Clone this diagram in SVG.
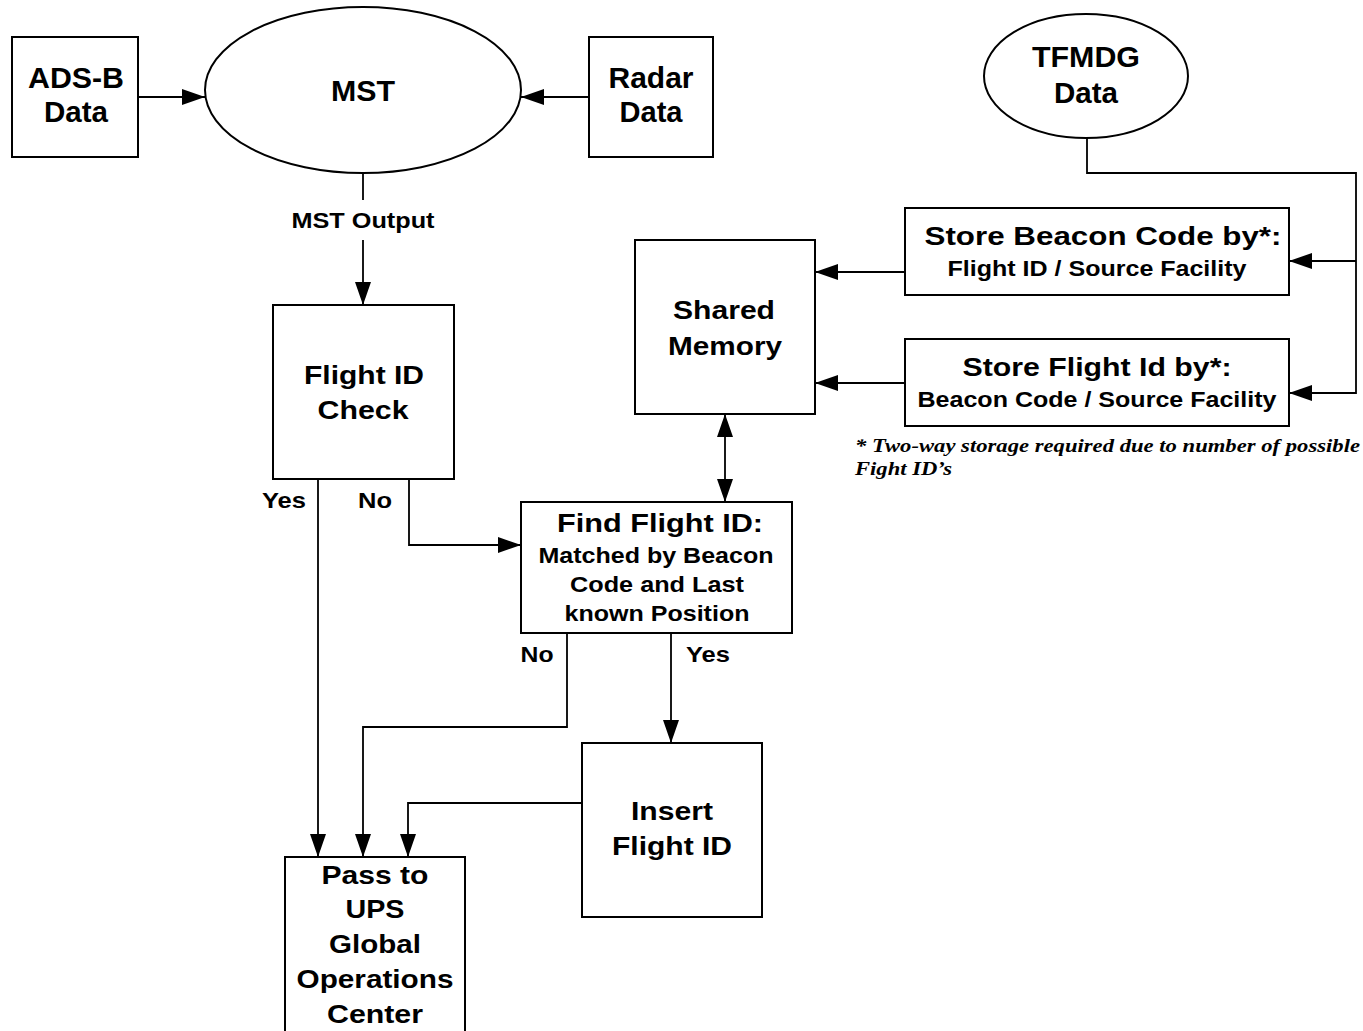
<svg xmlns="http://www.w3.org/2000/svg" width="1363" height="1031" viewBox="0 0 1363 1031">
<style>
.box{fill:#fff;stroke:#000;stroke-width:2}
.ln{fill:none;stroke:#000;stroke-width:1.8}
text{font-family:"Liberation Sans",Arial,sans-serif;font-weight:bold;fill:#000;text-anchor:middle}
.big{font-size:30px}
.mid{font-size:26px}
.sm{font-size:22px}
.lbl{font-size:22px}
.note{font-family:"Liberation Serif","Times New Roman",serif;font-style:italic;font-size:19.5px;text-anchor:start}
</style>
<defs>
<marker id="ah" markerUnits="userSpaceOnUse" markerWidth="24" markerHeight="18" refX="23" refY="8" orient="auto-start-reverse">
<path d="M0,0 L23,8 L0,16 z" fill="#000"/>
</marker>
</defs>
<rect width="1363" height="1031" fill="#fff"/>
<g id="connectors">
<line class="ln" x1="138" y1="97" x2="205" y2="97" marker-end="url(#ah)"/>
<line class="ln" x1="589" y1="97" x2="521" y2="97" marker-end="url(#ah)"/>
<line class="ln" x1="363" y1="173" x2="363" y2="200"/>
<line class="ln" x1="363" y1="240" x2="363" y2="305" marker-end="url(#ah)"/>
<line class="ln" x1="318" y1="479" x2="318" y2="857" marker-end="url(#ah)"/>
<polyline class="ln" points="409,479 409,545 521,545" marker-end="url(#ah)"/>
<line class="ln" x1="725" y1="414" x2="725" y2="502" marker-start="url(#ah)" marker-end="url(#ah)"/>
<line class="ln" x1="905" y1="272" x2="815" y2="272" marker-end="url(#ah)"/>
<line class="ln" x1="905" y1="383" x2="815" y2="383" marker-end="url(#ah)"/>
<polyline class="ln" points="1087,138 1087,173 1356,173 1356,393 1289,393" marker-end="url(#ah)"/>
<line class="ln" x1="1356" y1="261" x2="1289" y2="261" marker-end="url(#ah)"/>
<polyline class="ln" points="567,633 567,727 363,727 363,857" marker-end="url(#ah)"/>
<line class="ln" x1="671" y1="633" x2="671" y2="743" marker-end="url(#ah)"/>
<polyline class="ln" points="582,803 408,803 408,857" marker-end="url(#ah)"/>
<text class="lbl" x="363" y="228" textLength="143" lengthAdjust="spacingAndGlyphs">MST Output</text>
<text class="lbl" x="284" y="508" textLength="44" lengthAdjust="spacingAndGlyphs">Yes</text>
<text class="lbl" x="375" y="508" textLength="34" lengthAdjust="spacingAndGlyphs">No</text>
<text class="lbl" x="537" y="662" textLength="33" lengthAdjust="spacingAndGlyphs">No</text>
<text class="lbl" x="708" y="662" textLength="44" lengthAdjust="spacingAndGlyphs">Yes</text>
</g>
<g id="adsb">
<rect class="box" x="12" y="37" width="126" height="120"/>
<text class="big" x="76" y="88" textLength="96" lengthAdjust="spacingAndGlyphs">ADS-B</text>
<text class="big" x="76" y="122" textLength="64" lengthAdjust="spacingAndGlyphs">Data</text>
</g>
<g id="mst">
<ellipse class="box" cx="363" cy="90" rx="158" ry="83"/>
<text class="big" x="363" y="101" textLength="64" lengthAdjust="spacingAndGlyphs">MST</text>
</g>
<g id="radar">
<rect class="box" x="589" y="37" width="124" height="120"/>
<text class="big" x="651" y="88" textLength="85" lengthAdjust="spacingAndGlyphs">Radar</text>
<text class="big" x="651" y="122" textLength="63" lengthAdjust="spacingAndGlyphs">Data</text>
</g>
<g id="tfmdg">
<ellipse class="box" cx="1086" cy="76" rx="102" ry="62"/>
<text class="big" x="1086" y="67" textLength="108" lengthAdjust="spacingAndGlyphs">TFMDG</text>
<text class="big" x="1086" y="103" textLength="64" lengthAdjust="spacingAndGlyphs">Data</text>
</g>
<g id="flightIdCheck">
<rect class="box" x="273" y="305" width="181" height="174"/>
<text class="mid" x="364" y="384" textLength="120" lengthAdjust="spacingAndGlyphs">Flight ID</text>
<text class="mid" x="363" y="419" textLength="91" lengthAdjust="spacingAndGlyphs">Check</text>
</g>
<g id="sharedMemory">
<rect class="box" x="635" y="240" width="180" height="174"/>
<text class="mid" x="724" y="319" textLength="102" lengthAdjust="spacingAndGlyphs">Shared</text>
<text class="mid" x="725" y="355" textLength="114" lengthAdjust="spacingAndGlyphs">Memory</text>
</g>
<g id="storeBeacon">
<rect class="box" x="905" y="208" width="384" height="87"/>
<text class="mid" x="1103" y="245" textLength="357" lengthAdjust="spacingAndGlyphs">Store Beacon Code by*:</text>
<text class="sm" x="1097" y="276" textLength="299" lengthAdjust="spacingAndGlyphs">Flight ID / Source Facility</text>
</g>
<g id="storeFlight">
<rect class="box" x="905" y="339" width="384" height="87"/>
<text class="mid" x="1097" y="376" textLength="269" lengthAdjust="spacingAndGlyphs">Store Flight Id by*:</text>
<text class="sm" x="1097" y="407" textLength="359" lengthAdjust="spacingAndGlyphs">Beacon Code / Source Facility</text>
</g>
<g id="footnote">
<text class="note" x="855" y="452" textLength="505" lengthAdjust="spacingAndGlyphs">* Two-way storage required due to number of possible</text>
<text class="note" x="855" y="475" textLength="97" lengthAdjust="spacingAndGlyphs">Fight ID’s</text>
</g>
<g id="findFlightId">
<rect class="box" x="521" y="502" width="271" height="131"/>
<text class="mid" x="660" y="532" textLength="206" lengthAdjust="spacingAndGlyphs">Find Flight ID:</text>
<text class="sm" x="656" y="563" textLength="235" lengthAdjust="spacingAndGlyphs">Matched by Beacon</text>
<text class="sm" x="657" y="592" textLength="174" lengthAdjust="spacingAndGlyphs">Code and Last</text>
<text class="sm" x="657" y="621" textLength="185" lengthAdjust="spacingAndGlyphs">known Position</text>
</g>
<g id="insertFlightId">
<rect class="box" x="582" y="743" width="180" height="174"/>
<text class="mid" x="672" y="820" textLength="82" lengthAdjust="spacingAndGlyphs">Insert</text>
<text class="mid" x="672" y="855" textLength="120" lengthAdjust="spacingAndGlyphs">Flight ID</text>
</g>
<g id="passToUps">
<rect class="box" x="285" y="857" width="180" height="190"/>
<text class="mid" x="375" y="884" textLength="107" lengthAdjust="spacingAndGlyphs">Pass to</text>
<text class="mid" x="375" y="918" textLength="59" lengthAdjust="spacingAndGlyphs">UPS</text>
<text class="mid" x="375" y="953" textLength="92" lengthAdjust="spacingAndGlyphs">Global</text>
<text class="mid" x="375" y="988" textLength="157" lengthAdjust="spacingAndGlyphs">Operations</text>
<text class="mid" x="375" y="1023" textLength="96" lengthAdjust="spacingAndGlyphs">Center</text>
</g>
</svg>
